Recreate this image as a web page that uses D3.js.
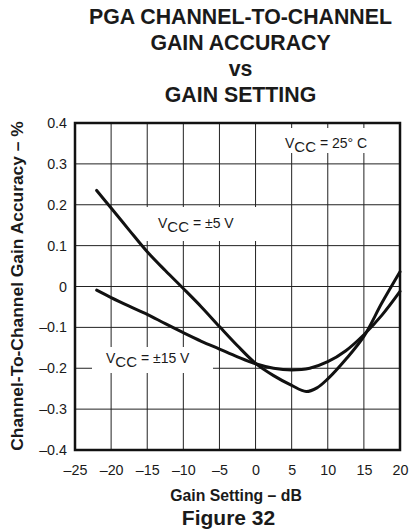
<!DOCTYPE html>
<html>
<head>
<meta charset="utf-8">
<script src="https://cdn.jsdelivr.net/npm/d3@7"></script>
<style>
  html, body { margin: 0; padding: 0; background: #fff; }
  svg { display: block; font-family: "Liberation Sans", Arial, Helvetica, sans-serif; }
</style>
</head>
<body>
<svg id="chart" width="413" height="531"></svg>
<script>
// ---- data ----
const titleLines = ["PGA CHANNEL-TO-CHANNEL", "GAIN ACCURACY", "vs", "GAIN SETTING"];
const xTicks = [-25, -20, -15, -10, -5, 0, 5, 10, 15, 20];
const yTicks = [-0.4, -0.3, -0.2, -0.1, 0, 0.1, 0.2, 0.3, 0.4];
const gain5 = [-22, -20, -17.5, -15, -12.5, -10, -7.5, -5, -2.5, 0, 2.5, 5, 7, 8.5, 10, 12.5, 15, 17.5, 20];
const acc5 = [0.235, 0.192, 0.138, 0.085, 0.039, -0.005, -0.05, -0.098, -0.145, -0.188, -0.218, -0.242, -0.257, -0.248, -0.226, -0.178, -0.122, -0.04, 0.036];
const gain15 = [-22, -20, -17.5, -15, -12.5, -10, -7.5, -5, -2.5, 0, 2.5, 5, 7.5, 10, 12.5, 15, 17.5, 20];
const acc15 = [-0.009, -0.027, -0.048, -0.068, -0.091, -0.113, -0.134, -0.153, -0.172, -0.189, -0.2, -0.204, -0.2, -0.184, -0.157, -0.118, -0.07, -0.012];
const xLabel = "Gain Setting – dB";
const yLabel = "Channel-To-Channel Gain Accuracy – %";
const figureLabel = "Figure 32";

// ---- layout ----
const svg = d3.select("#chart");
const m = { left: 75, top: 123, right: 400, bottom: 450 };
const w = m.right - m.left, h = m.bottom - m.top;

const x = d3.scaleLinear().domain([-25, 20]).range([m.left, m.right]);
const y = d3.scaleLinear().domain([-0.4, 0.4]).range([m.bottom, m.top]);
const fmt = d => d === 0 ? "0" : (d < 0 ? "–" + d3.format("")(Math.abs(d)) : d3.format("")(d));

// title
svg.append("g").selectAll("text").data(titleLines).join("text")
  .attr("x", 240.5).attr("y", (d, i) => 24 + i * 26)
  .attr("text-anchor", "middle").attr("font-weight", "bold").attr("font-size", 21.3)
  .attr("fill", "#1a1a1a").text(d => d);

// grid lines
const grid = svg.append("g").attr("stroke", "#222").attr("stroke-width", 1);
grid.selectAll("line.v").data(xTicks).join("line").attr("class", "v")
  .attr("x1", d => x(d)).attr("x2", d => x(d)).attr("y1", m.top).attr("y2", m.bottom);
grid.selectAll("line.h").data(yTicks).join("line").attr("class", "h")
  .attr("y1", d => y(d)).attr("y2", d => y(d)).attr("x1", m.left).attr("x2", m.right);

// axes (labels only)
const xAxis = svg.append("g").attr("transform", `translate(0,${m.bottom})`)
  .call(d3.axisBottom(x).tickValues(xTicks).tickFormat(fmt).tickSize(0).tickPadding(15));
const yAxis = svg.append("g").attr("transform", `translate(${m.left},0)`)
  .call(d3.axisLeft(y).tickValues(yTicks).tickFormat(fmt).tickSize(0).tickPadding(8));
[xAxis, yAxis].forEach(a => {
  a.select(".domain").remove();
  a.selectAll("text").attr("font-size", 14.3).attr("fill", "#1a1a1a")
    .attr("font-family", "'Liberation Sans', Arial, sans-serif");
});

// label boxes (white, hiding grid)
const boxes = [
  { x0: 280, x1: 386, y0: 128, y1: 153 },
  { x0: 140, x1: 258, y0: 207, y1: 241 },
  { x0: 92, x1: 213, y0: 347, y1: 373 }
];
svg.append("g").selectAll("rect").data(boxes).join("rect")
  .attr("x", d => d.x0).attr("y", d => d.y0)
  .attr("width", d => d.x1 - d.x0).attr("height", d => d.y1 - d.y0)
  .attr("fill", "#fff");

// curves
const line = d3.line().x(d => x(d[0])).y(d => y(d[1])).curve(d3.curveCatmullRom.alpha(0.5));
const series = [d3.zip(gain5, acc5), d3.zip(gain15, acc15)];
svg.append("g").selectAll("path").data(series).join("path")
  .attr("d", line).attr("fill", "none").attr("stroke", "#111")
  .attr("stroke-width", 3).attr("stroke-linejoin", "round").attr("stroke-linecap", "round");

// frame
svg.append("rect").attr("x", m.left).attr("y", m.top).attr("width", w).attr("height", h)
  .attr("fill", "none").attr("stroke", "#111").attr("stroke-width", 2.5);

// annotations
function vccLabel(xp, yp, rest) {
  const t = svg.append("text").attr("x", xp).attr("y", yp).attr("font-size", 14).attr("fill", "#1a1a1a");
  t.append("tspan").text("V");
  t.append("tspan").attr("dy", 4).attr("font-size", 15).text("CC");
  t.append("tspan").attr("dy", -4).text(rest);
}
vccLabel(285, 148, " = 25° C");
vccLabel(158, 228, " = ±5 V");
vccLabel(106, 363, " = ±15 V");

// axis titles
svg.append("text").attr("x", 236).attr("y", 501).attr("text-anchor", "middle")
  .attr("font-weight", "bold").attr("font-size", 15.8).attr("fill", "#1a1a1a").text(xLabel);
svg.append("text").attr("transform", "translate(23,286) rotate(-90)").attr("text-anchor", "middle")
  .attr("font-weight", "bold").attr("font-size", 17.4).attr("fill", "#1a1a1a").text(yLabel);
svg.append("text").attr("x", 228.5).attr("y", 525).attr("text-anchor", "middle")
  .attr("font-weight", "bold").attr("font-size", 21).attr("fill", "#1a1a1a").text(figureLabel);
</script>
</body>
</html>
